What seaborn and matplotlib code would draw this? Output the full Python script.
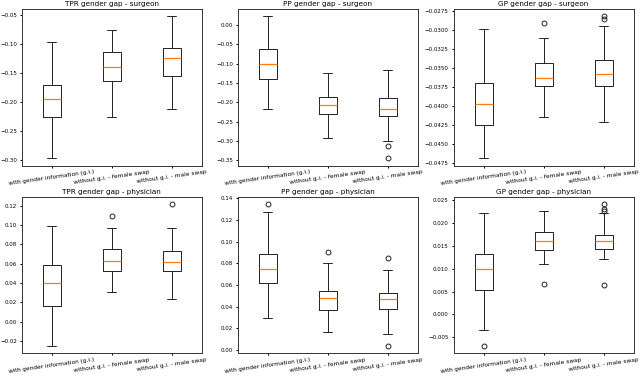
import matplotlib
matplotlib.use("Agg")
import matplotlib.pyplot as plt
import seaborn as sns

groups = ["with gender information (g.i.)", "without g.i. - female swap", "without g.i. - male swap"]

# (whisker low, Q1, median, Q3, whisker high) per group
tpr_surgeon = [(-0.297, -0.2256, -0.195, -0.171, -0.0966),
               (-0.226, -0.1648, -0.1398, -0.1136, -0.0767),
               (-0.212, -0.1557, -0.125, -0.108, -0.0528)]
tpr_surgeon_out = [[], [], []]

pp_surgeon = [(-0.2166, -0.140, -0.101, -0.0608, 0.0231),
              (-0.293, -0.230, -0.206, -0.185, -0.123),
              (-0.300, -0.236, -0.2166, -0.188, -0.116)]
pp_surgeon_out = [[], [], [-0.313, -0.345]]

gp_surgeon = [(-0.04694, -0.0425, -0.03976, -0.03698, -0.02985),
              (-0.04146, -0.03746, -0.03633, -0.03433, -0.03107),
              (-0.04211, -0.03741, -0.0358, -0.03402, -0.02946)]
gp_surgeon_out = [[], [-0.02911], [-0.0282, -0.0286]]

tpr_physician = [(-0.0255, 0.0167, 0.0401, 0.0589, 0.0991),
                 (0.0312, 0.0528, 0.0631, 0.0754, 0.0967),
                 (0.0236, 0.052, 0.062, 0.073, 0.097)]
tpr_physician_out = [[], [0.1097], [0.1217]]

pp_physician = [(0.0291, 0.0619, 0.0751, 0.0882, 0.1271),
                (0.0169, 0.0365, 0.0478, 0.0542, 0.0803),
                (0.0144, 0.0374, 0.0472, 0.0527, 0.0735)]
pp_physician_out = [[0.1348], [0.0901], [0.0849, 0.0034]]

gp_physician = [(-0.00348, 0.00543, 0.00986, 0.01319, 0.02217),
                (0.01109, 0.01413, 0.01609, 0.01804, 0.0226),
                (0.0121, 0.01428, 0.01609, 0.01732, 0.0221)]
gp_physician_out = [[-0.00696], [0.00667], [0.0241, 0.0231, 0.0225, 0.0064]]

panels = [("TPR gender gap - surgeon", tpr_surgeon, tpr_surgeon_out),
          ("PP gender gap - surgeon", pp_surgeon, pp_surgeon_out),
          ("GP gender gap - surgeon", gp_surgeon, gp_surgeon_out),
          ("TPR gender gap - physician", tpr_physician, tpr_physician_out),
          ("PP gender gap - physician", pp_physician, pp_physician_out),
          ("GP gender gap - physician", gp_physician, gp_physician_out)]

sns.set_style("ticks", {"axes.edgecolor": "#333333", "xtick.color": "black",
                        "ytick.color": "black", "text.color": "black"})
plt.rcParams["font.family"] = ["DejaVu Sans"]
plt.rcParams["xtick.labelsize"] = 8.5
plt.rcParams["ytick.labelsize"] = 8
plt.rcParams["axes.titlesize"] = 10.5
plt.rcParams["axes.linewidth"] = 1.4

fig, axes = plt.subplots(2, 3, figsize=(12.8, 7.52), dpi=50)
fig.subplots_adjust(left=0.034, right=0.99, top=0.976, bottom=0.06,
                    wspace=0.2, hspace=0.2)

line = {"color": "#222222", "linewidth": 1.4}
for ax, (title, stats, outs) in zip(axes.flat, panels):
    bstats = []
    for name, s, o in zip(groups, stats, outs):
        lo, q1, med, q3, hi = s
        bstats.append({"whislo": lo, "q1": q1, "med": med, "q3": q3,
                       "whishi": hi, "fliers": o, "label": name})
    ax.bxp(bstats, positions=[1, 2, 3], widths=0.3,
           boxprops=line, whiskerprops=line, capprops=line,
           medianprops={"color": "#ff7f0e", "linewidth": 1.8},
           flierprops={"marker": "o", "markerfacecolor": "none",
                       "markeredgecolor": "#222222", "markersize": 7,
                       "markeredgewidth": 1.4})
    ax.set_title(title, pad=4)
    ax.set_xlim(0.5, 3.5)
    ax.tick_params(axis="x", labelrotation=8, width=1.4, pad=2)
    ax.tick_params(axis="y", width=1.4)

fig.savefig("out.png", dpi=50)
